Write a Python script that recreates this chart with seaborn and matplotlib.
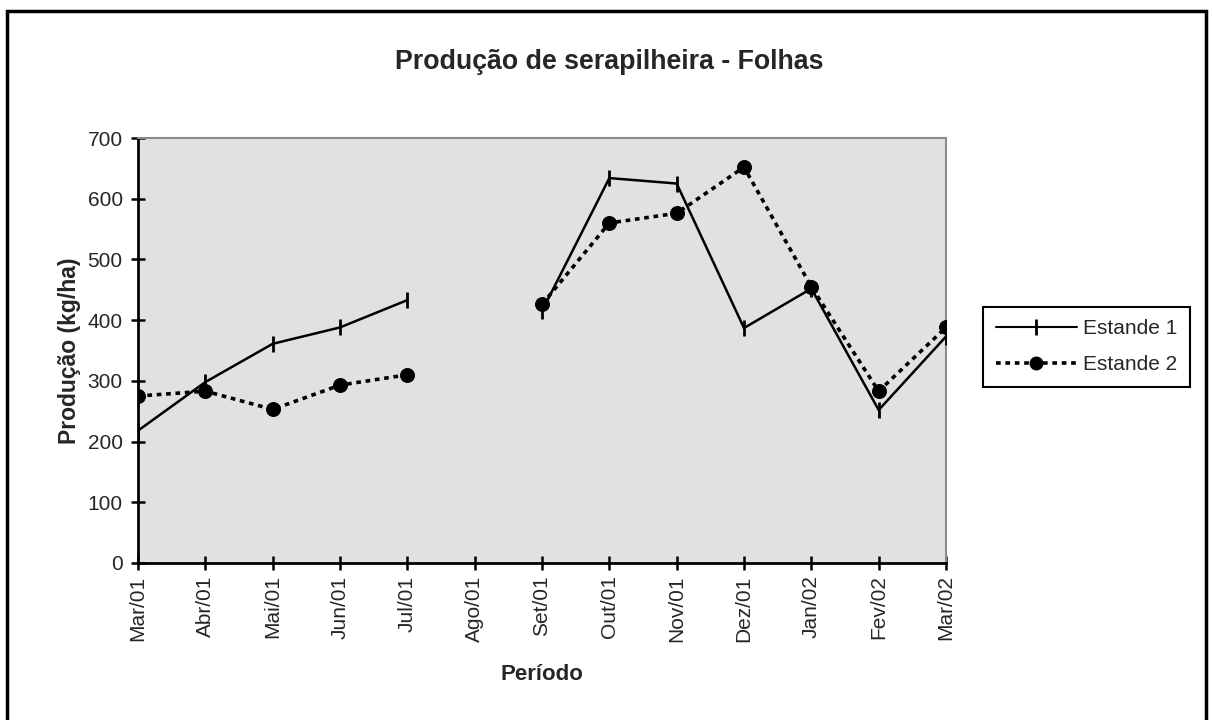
import numpy as np
import pandas as pd
import matplotlib
matplotlib.use("Agg")
import matplotlib.pyplot as plt
import seaborn as sns
from matplotlib.lines import Line2D
from matplotlib.patches import Rectangle

periods = ["Mar/01", "Abr/01", "Mai/01", "Jun/01", "Jul/01", "Ago/01", "Set/01",
           "Out/01", "Nov/01", "Dez/01", "Jan/02", "Fev/02", "Mar/02"]
estande1 = [218, 298, 361, 388, 433, np.nan, 415, 634, 625, 387, 452, 252, 373]
estande2 = [275, 283, 253, 293, 310, np.nan, 426, 560, 576, 652, 455, 283, 388]
yticks = [0, 100, 200, 300, 400, 500, 600, 700]

sns.set_theme(style="white")
plt.rcParams['font.family'] = ['Liberation Sans', 'DejaVu Sans']

fig = plt.figure(figsize=(12.12, 7.2), dpi=100)
ax = fig.add_axes([138/1212, 1 - 563/720, (946-138)/1212, (563-138)/720])
ax.set_facecolor("#e1e1e1")

df = pd.DataFrame({"x": np.arange(len(periods)), "e1": estande1, "e2": estande2})

def segments(col):
    sub = df[["x", col]]
    ok = sub[col].notna()
    grp = sub[col].isna().cumsum()
    for _, g in sub[ok].groupby(grp[ok]):
        yield g

for g in segments("e2"):
    sns.lineplot(data=g, x="x", y="e2", ax=ax, color="black", linewidth=2.6,
                 linestyle=(0, (1.3, 1.3)), marker="o", markersize=10,
                 markeredgecolor="black", markerfacecolor="black", zorder=3)
for g in segments("e1"):
    sns.lineplot(data=g, x="x", y="e1", ax=ax, color="black", linewidth=1.8,
                 marker="|", markersize=11, markeredgewidth=2,
                 markeredgecolor="black", zorder=4)

ax.set_xlim(0, len(periods) - 1)
ax.set_ylim(0, 700)
ax.set_xticks(np.arange(len(periods)))
ax.set_xticklabels(periods, rotation=90, fontsize=15)
ax.set_yticks(yticks)
ax.set_yticklabels([str(v) for v in yticks], fontsize=15)
ax.tick_params(axis="both", direction="inout", length=10, width=1.8, color="black",
               bottom=True, left=True, pad=4)
ax.tick_params(axis="y", pad=6)

for s in ["left", "bottom"]:
    ax.spines[s].set_color("black")
    ax.spines[s].set_linewidth(2)
for s in ["top", "right"]:
    ax.spines[s].set_color("#8c8c8c")
    ax.spines[s].set_linewidth(1.5)

ax.set_xlabel("Período", fontsize=16, fontweight="bold", labelpad=16)
ax.set_ylabel("Produção (kg/ha)", fontsize=16.5, fontweight="bold", labelpad=5)
fig.text(609/1212, 1 - 62/720, "Produção de serapilheira - Folhas", ha="center",
         va="center", fontsize=19.3, fontweight="bold")

handles = [
    Line2D([], [], color="black", linewidth=1.5, marker="|", markersize=11, markeredgewidth=2),
    Line2D([], [], color="black", linewidth=2.6, linestyle=(0, (1.3, 1.3)), marker="o",
           markersize=9),
]
leg = fig.legend(handles, ["Estande 1", "Estande 2"], loc="upper left",
                 bbox_to_anchor=(983/1212, 1 - 307/720), fontsize=15,
                 frameon=True, fancybox=False, edgecolor="black", framealpha=1,
                 handlelength=3.9, borderpad=0.6, labelspacing=0.8, handletextpad=0.3,
                 borderaxespad=0)
leg.get_frame().set_linewidth(1.5)

fig.patches.append(Rectangle((7/1212, -0.01), (1206-7)/1212, (1 - 11/720) + 0.01,
                             transform=fig.transFigure, fill=False, edgecolor="black",
                             linewidth=2.5, zorder=10))

fig.savefig("out.png", dpi=100, facecolor="white")
